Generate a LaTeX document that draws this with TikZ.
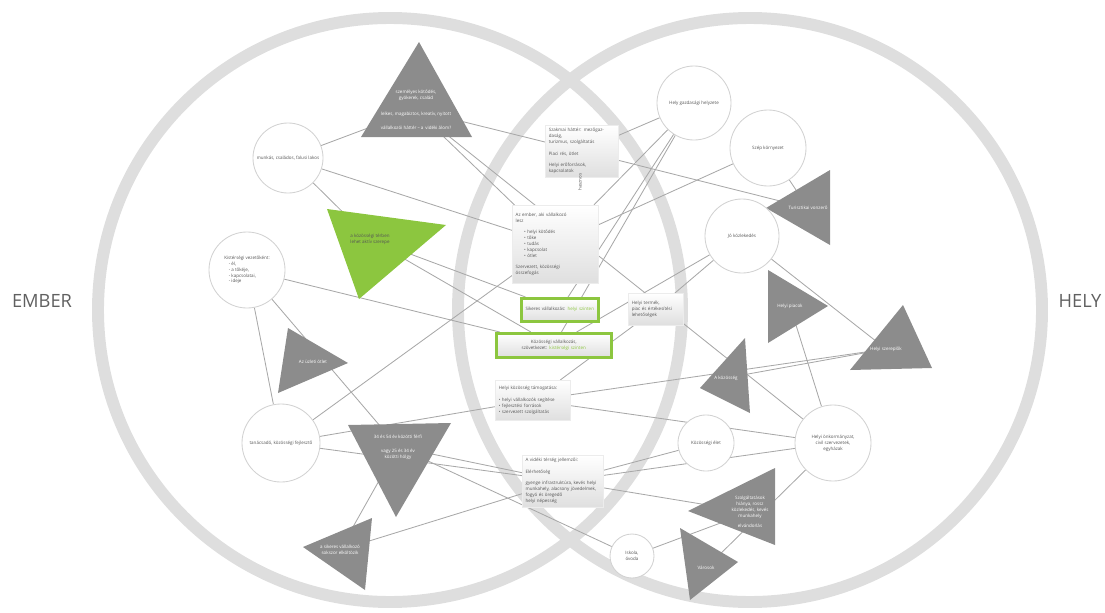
\documentclass[tikz,border=0pt]{standalone}
\usepackage{fontspec}
\setmainfont{Open Sans}
\pgfdeclarelayer{back}
\pgfdeclarelayer{links}
\pgfsetlayers{back,links,main}
\definecolor{ring}{HTML}{DEDEDE}
\definecolor{tri}{HTML}{8C8C8C}
\definecolor{lime}{HTML}{8CC63F}
\definecolor{link}{HTML}{A8A8A8}
\definecolor{ink}{HTML}{555555}
\tikzset{
  tiny/.style={font=\fontsize{3.2}{4.2}\selectfont},
  topic/.style={circle, draw=gray!35, fill=white, line width=0.6pt,
    align=center, inner sep=0pt, tiny, text=ink},
  note/.style={rectangle, anchor=north west, top color=white,
    bottom color=gray!25, draw=gray!15, align=left, inner sep=0.08cm,
    tiny, text=ink},
  keynote/.style={note, draw=lime, line width=1.8pt},
  trilabel/.style={align=center, tiny, text=white},
  link/.style={draw=link, line width=0.6pt},
  ringline/.style={draw=ring, line width=8.5pt},
  setname/.style={font=\fontsize{13}{15}\selectfont, text=gray!75!black}
}
\begin{document}
\begin{tikzpicture}[x=0.025cm, y=-0.025cm]
  \useasboundingbox (0,0) rectangle (1105,612);

  % the two big sets
  \begin{pgfonlayer}{back}
    \draw[ringline] (390,310) circle (0.025*292cm);
    \draw[ringline] (750,310) circle (0.025*292cm);
  \end{pgfonlayer}
  \node (ember) [setname] at (42,301) {EMBER};
  \node (hely) [setname] at (1080,301) {HELY};

  % triangles
  \fill[tri] (419,42) -- (361,137) -- (472,137) -- cycle;
  \node (t1) [trilabel] at (416,110) {személyes kötődés,\\ gyökerek, család\\[7pt]
    lelkes, magabiztos, kreatív, nyitott\\[6pt] vállalkozói háttér -- a \,vidéki álom?};
  \fill[lime] (327,209) -- (446,225) -- (359,299) -- cycle;
  \node (t2) [align=center, tiny, text=ink] at (370,239) {a közösségi térben\\ lehet aktív szerepe};
  \fill[tri] (288,328) -- (348,363) -- (278,393) -- cycle;
  \node (t3) [trilabel] at (313,362) {Az üzleti ötlet};
  \fill[tri] (348,425) -- (451,423) -- (396,517) -- cycle;
  \node (t4) [trilabel] at (398,447) {34 és 54 év közötti férfi\\[6pt] vagy 25 és 34 év\\ közötti hölgy};
  \fill[tri] (372,518) -- (303,547) -- (365,590) -- cycle;
  \node (t5) [trilabel] at (340,550) {a sikeres vállalkozó\\ sokszor elköltözik};
  \fill[tri] (830,170) -- (830,245) -- (766,208) -- cycle;
  \node (t6) [trilabel] at (808,208) {Turisztikai vonzerő};
  \fill[tri] (768,270) -- (768,343) -- (828,306) -- cycle;
  \node (t7) [trilabel] at (790,306) {Helyi piacok};
  \fill[tri] (745,338) -- (750,413) -- (700,388) -- cycle;
  \node (t8) [trilabel] at (726,378) {A közösség};
  \fill[tri] (903,305) -- (850,370) -- (932,368) -- cycle;
  \node (t9) [trilabel] at (886,349) {Helyi szereplők};
  \fill[tri] (775,468) -- (775,545) -- (688,511) -- cycle;
  \node (t10) [trilabel] at (750,512) {Szolgáltatások\\ hiánya, rossz\\ közlekedés, kevés\\ munkahely\\[3pt] elvándorlás};
  \fill[tri] (680,528) -- (738,562) -- (690,600) -- cycle;
  \node (t11) [trilabel] at (706,568) {Városok};

  % circles
  \node (c1) [topic, minimum size=1.75cm] at (288,158) {munkás, családos, falusi lakos};
  \node (c2) [topic, minimum size=1.9cm] at (247,270) {\begin{tabular}{@{}l@{}}Kistérségi vezetőként:\\ \quad - él,\\ \quad - a tőkéje,\\ \quad - kapcsolatai,\\ \quad - ideje\end{tabular}};
  \node (c3) [topic, minimum size=1.95cm] at (281,443) {tanácsadó, közösségi fejlesztő};
  \node (c4) [topic, minimum size=1.85cm] at (694,103) {Hely gazdasági helyzete};
  \node (c5) [topic, minimum size=1.9cm] at (768,148) {Szép környezet};
  \node (c6) [topic, minimum size=1.85cm] at (742,236) {Jó közlekedés};
  \node (c7) [topic, minimum size=1.4cm] at (706,443) {Közösségi élet};
  \node (c8) [topic, minimum size=1.9cm] at (833,443) {Helyi önkormányzat,\\ civil szervezetek,\\ egyházak};
  \node (c9) [topic, minimum size=1.1cm] at (632,556) {Iskola,\\ óvoda};

  % notes
  \node (r1) [note, minimum width=1.825cm, minimum height=1.175cm, text width=1.65cm] at (545,125)
    {Szakmai háttér: mezőgazdaság,\\ turizmus, szolgáltatás\\[4pt] Piaci rés, ötlet\\[4pt] Helyi erőforrások,\\ kapcsolatok};
  \node (r2) [note, minimum width=2.15cm, minimum height=1.95cm, text width=1.98cm] at (512,205)
    {Az ember, aki vállalkozó\\ lesz\\[4pt]
     \hspace*{6pt}• helyi kötődés\\ \hspace*{6pt}• tőke\\ \hspace*{6pt}• tudás\\ \hspace*{6pt}• kapcsolat\\ \hspace*{6pt}• ötlet\\[4pt]
     Szervezett, közösségi\\ összefogás};
  \node (r3) [keynote, minimum width=1.925cm, minimum height=0.575cm, text width=1.75cm, align=center] at (520,297)
    {Sikeres vállalkozás: {\color{lime}helyi szinten}};
  \node (r4) [keynote, minimum width=2.875cm, minimum height=0.6cm, text width=2.7cm, align=center] at (495,332)
    {Közösségi vállalkozás, szövetkezet: {\color{lime}kistérségi szinten}};
  \node (r5) [note, minimum width=1.875cm, minimum height=1.0cm, text width=1.7cm] at (495,380)
    {Helyi közösség támogatása:\\[4pt] • helyi vállalkozók segítése\\ • fejlesztési források\\ • szervezett szolgáltatás};
  \node (r6) [note, minimum width=2.025cm, minimum height=1.125cm, text width=1.86cm] at (522,455)
    {A vidéki térség jellemzői:\\[4pt] Elérhetőség\\[4pt] gyenge infrastruktúra, kevés helyi munkahely,
     alacsony jövedelmek, fogyó és öregedő\\ helyi népesség};
  \node (r7) [note, minimum width=1.375cm, minimum height=0.8cm, text width=1.2cm] at (628,293)
    {Helyi termék,\\ piac és értékesítési\\ lehetőségek};
  \node (side) [rotate=90, tiny, text=ink] at (580,182) {hasznos};

  % connectors
  \begin{pgfonlayer}{links}
    \draw[link] (c1) -- (t1);
    \draw[link] (c1) -- (t2);
    \draw[link] (c1) -- (r2);
    \draw[link] (t1) -- (r1);
    \draw[link] (t1) -- (r2);
    \draw[link] (t1) -- (c8);
    \draw[link] (t2) -- (r3);
    \draw[link] (t2) -- (r4);
    \draw[link] (c2) -- (r4);
    \draw[link] (c2) -- (c3);
    \draw[link] (c2) -- (t4);
    \draw[link] (c3) -- (r2);
    \draw[link] (c3) -- (r5);
    \draw[link] (c3) -- (r6);
    \draw[link] (t4) -- (r6);
    \draw[link] (t4) -- (c9);
    \draw[link] (t5) -- (t4);
    \draw[link] (t5) -- (r6);
    \draw[link] (r1) -- (c4);
    \draw[link] (r1) -- (t6);
    \draw[link] (r2) -- (c4);
    \draw[link] (r2) -- (c5);
    \draw[link] (r3) -- (c4);
    \draw[link] (r4) -- (c4);
    \draw[link] (r4) -- (c6);
    \draw[link] (r5) -- (t9);
    \draw[link] (r5) -- (c8);
    \draw[link] (r6) -- (c7);
    \draw[link] (r6) -- (c8);
    \draw[link] (r6) -- (t10);
    \draw[link] (c9) -- (t10);
    \draw[link] (c8) -- (t7);
    \draw[link] (c8) -- (t11);
    \draw[link] (c5) -- (t6);
    \draw[link] (c6) -- (r7);
    \draw[link] (c6) -- (t9);
    \draw[link] (r7) -- (r5);
    \draw[link] (t8) -- (t9);
  \end{pgfonlayer}
\end{tikzpicture}
\end{document}
